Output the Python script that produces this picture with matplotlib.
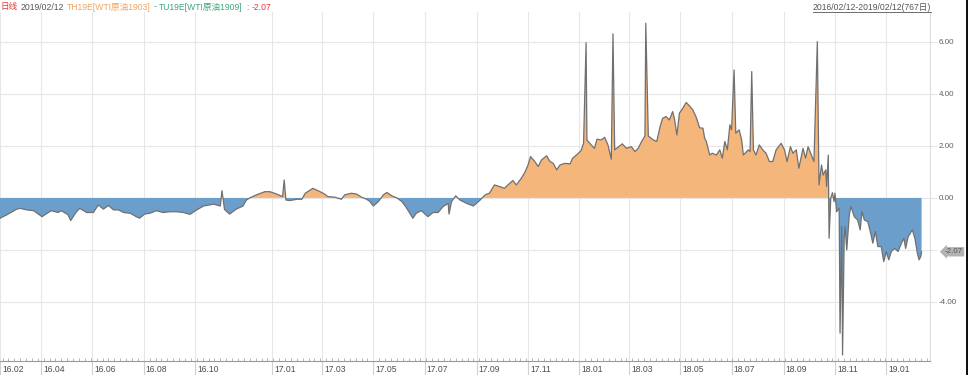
import matplotlib
matplotlib.use("Agg")
import numpy as np
import pandas as pd
import matplotlib.pyplot as plt
import matplotlib.dates as mdates
from matplotlib import font_manager
from matplotlib.lines import Line2D
from matplotlib.patches import Rectangle
from matplotlib.transforms import blended_transform_factory, ScaledTranslation

# TH19E - TU19E spread, days counted from the first bar (2016-02-12)
START = pd.Timestamp("2016-02-12")
DAY_OFFSET = [
    0, 8, 20, 24, 32, 40, 50, 56, 61, 69, 73, 81, 84, 91, 95, 103, 111, 117, 123, 129,
    135, 141, 147, 155, 162, 166, 172, 178, 186, 194, 202, 210, 218, 226, 234, 242, 254, 262, 264, 267,
    273, 281, 289, 293, 297, 305, 315, 321, 329, 336, 338, 340, 345, 353, 359, 363, 372, 380,
    386, 390, 398, 406, 410, 418, 424, 430, 436, 440, 444, 450, 456, 460, 466, 472, 478, 483, 491, 495,
    501, 509, 515, 521, 527, 533, 534, 537, 542, 547, 555, 563, 569,
    571, 577, 582, 588, 594, 600, 604, 610, 614, 620, 624, 628, 631, 636, 640, 644, 650, 654, 658, 662,
    666, 672, 678, 681, 687, 691, 694, 697, 698, 703, 707, 710, 715, 719, 723, 727, 729, 731, 735, 740,
    745, 751, 755, 759, 763, 767, 768, 771, 777, 781, 785, 788, 792, 796, 800, 802, 805, 808, 812, 816,
    820, 824, 828, 832,
    836, 838, 840, 844, 847, 852, 856, 859, 862, 865, 868, 870, 873, 875, 879, 882, 884, 890, 892, 894,
    896, 899, 903, 907, 911, 915, 919, 923, 929, 933, 936, 940, 943, 947, 950, 955, 958, 961, 965, 968,
    972, 974, 977, 979, 982, 983, 985, 986, 988, 990, 992, 993, 995, 998, 999, 1001, 1002, 1004, 1005, 1007,
    1010, 1012, 1016, 1020, 1023, 1025, 1028, 1032, 1035, 1038, 1041, 1044, 1048, 1051, 1054, 1057, 1060, 1064, 1068, 1072,
    1075, 1077, 1080, 1085, 1088, 1091, 1093, 1095, 1096,
]
SPREAD = [
    -0.78, -0.65, -0.43, -0.40, -0.46, -0.49, -0.72, -0.59, -0.49, -0.56, -0.49, -0.65, -0.87, -0.53, -0.40, -0.56, -0.56, -0.27, -0.43, -0.29,
    -0.46, -0.46, -0.56, -0.59, -0.72, -0.78, -0.62, -0.59, -0.49, -0.56, -0.53, -0.53, -0.56, -0.63, -0.46, -0.31, -0.24, -0.31, 0.28, -0.44,
    -0.62, -0.43, -0.31, -0.08, 0.00, 0.12, 0.24, 0.24, 0.15, 0.05, 0.69, -0.08, -0.10, -0.05, -0.05, 0.18, 0.37, 0.25,
    0.15, 0.05, 0.03, -0.05, 0.12, 0.18, 0.15, 0.03, -0.05, -0.14, -0.31, -0.14, 0.12, 0.21, 0.08, 0.00, -0.14, -0.36, -0.78, -0.59,
    -0.49, -0.72, -0.56, -0.56, -0.33, -0.21, -0.62, -0.14, 0.08, -0.08, -0.21, -0.31, -0.14,
    -0.08, 0.12, 0.18, 0.50, 0.44, 0.37, 0.50, 0.67, 0.50, 0.76, 0.97, 1.27, 1.59, 1.40, 1.21, 1.46, 1.62, 1.40, 1.33, 1.08,
    1.27, 1.33, 1.31, 1.53, 1.69, 1.82, 2.10, 5.97, 2.23, 2.04, 1.91, 2.26, 2.23, 2.33, 2.04, 1.49, 6.31, 1.85, 1.95, 2.08,
    1.91, 1.97, 1.78, 1.91, 2.17, 2.38, 6.72, 2.38, 2.23, 2.17, 2.74, 3.06, 3.13, 3.00, 3.32, 3.06, 2.42, 3.26, 3.45, 3.67,
    3.54, 3.38, 3.10, 2.70,
    2.68, 2.30, 2.17, 1.65, 1.72, 1.65, 1.85, 1.53, 2.17, 1.85, 2.81, 2.62, 4.92, 2.49, 2.62, 2.23, 1.65, 1.85, 1.78, 4.86,
    1.85, 1.65, 2.04, 1.85, 1.72, 1.40, 1.40, 1.85, 2.10, 1.85, 1.40, 1.97, 1.72, 1.85, 1.14, 1.91, 1.53, 1.97, 1.65, 1.40,
    6.01, 0.50, 1.27, 0.88, 1.08, 0.44, 1.65, -1.55, 0.00, 0.20, -0.14, 0.18, -0.53, -0.40, -5.20, -1.10, -6.04, -1.49, -1.10, -2.00,
    -0.65, -0.33, -0.72, -0.85, -1.23, -0.53, -0.85, -0.91, -1.29, -1.74, -1.29, -1.87, -1.87, -2.45, -2.06, -2.38, -2.06, -1.94, -2.06, -1.74,
    -1.55, -1.94, -1.49, -1.23, -1.55, -2.13, -2.38, -2.26, -2.07,
]
LAST = -2.07

TICK_DATES = ["2016-02-12", "2016-04-01", "2016-06-01", "2016-08-01", "2016-10-01",
              "2017-01-01", "2017-03-01", "2017-05-01", "2017-07-01", "2017-09-01",
              "2017-11-01", "2018-01-01", "2018-03-01", "2018-05-01", "2018-07-01",
              "2018-09-01", "2018-11-01", "2019-01-01"]
TICK_LABELS = ["16.02", "16.04", "16.06", "16.08", "16.10", "17.01", "17.03", "17.05",
               "17.07", "17.09", "17.11", "18.01", "18.03", "18.05", "18.07", "18.09",
               "18.11", "19.01"]
Y_TICKS = [-4, -2, 0, 2, 4, 6]

HEADER = [("日线", "#e23a33"), ("2019/02/12", "#555555"),
          ("TH19E[WTI原油1903]", "#f2a35e"), ("-", "#3ea77a"),
          ("TU19E[WTI原油1909]", "#3ea77a"), (":", "#3ea77a"), ("-2.07", "#e23a33")]
RANGE_TEXT = "2016/02/12-2019/02/12(767日)"

installed = {f.name for f in font_manager.fontManager.ttflist}
latin = "Liberation Sans Narrow" if "Liberation Sans Narrow" in installed else "Liberation Sans"
plt.rcParams["font.family"] = [latin, "Noto Sans CJK SC", "DejaVu Sans"]

W, H = 968, 375
fig = plt.figure(figsize=(W / 100, H / 100), dpi=100)
ax = fig.add_axes([0, (H - 361) / H, 930 / W, (361 - 12) / H])

dates = START + pd.to_timedelta(DAY_OFFSET, unit="D")
v = np.array(SPREAD)
ax.fill_between(dates, v, 0, where=v >= 0, interpolate=True, color="#f5b67c", lw=0)
ax.fill_between(dates, v, 0, where=v <= 0, interpolate=True, color="#6c9ecc", lw=0)
ax.plot(dates, v, color="#707070", lw=0.9)

ax.set_xlim(START, START + pd.Timedelta(days=1106))
ax.set_ylim(-6.27, 7.15)

# x axis: labels sit to the right of each month gridline
ax.set_xticks(pd.to_datetime(TICK_DATES))
ax.set_xticklabels(TICK_LABELS)
ax.xaxis.set_minor_locator(mdates.WeekdayLocator(byweekday=mdates.MO))
ax.tick_params(axis="x", which="major", length=14, width=0.8, color="#d0d0d0",
               pad=-11, labelsize=6.2, labelcolor="#4d4d4d")
ax.tick_params(axis="x", which="minor", direction="in", length=2.5, width=0.6,
               color="#a5a5a5")
shift = ScaledTranslation(2 / 100, 0, fig.dpi_scale_trans)
for lab in ax.get_xticklabels():
    lab.set_ha("left")
    lab.set_transform(lab.get_transform() + shift)

# y axis on the right
ax.yaxis.tick_right()
ax.set_yticks(Y_TICKS)
ax.set_yticklabels(["" if t == -2 else f"{t:.2f}" for t in Y_TICKS])
ax.tick_params(axis="y", length=5, width=0.8, color="#e6e6e6", pad=1,
               labelsize=5.8, labelcolor="#5f5f5f")

ax.grid(True, which="major", color="#e7e7e7", lw=0.8)
ax.set_axisbelow(True)
for side in ("top", "left"):
    ax.spines[side].set_visible(False)
ax.spines["right"].set_color("#dcdcdc")
ax.spines["bottom"].set_color("#9a9a9a")
ax.spines["bottom"].set_linewidth(0.8)

# last-value tag
tr = blended_transform_factory(ax.transAxes, ax.transData)
ax.text(1.016, LAST, f"{LAST:.2f}", transform=tr, ha="left", va="center",
        fontsize=5.8, color="#555555", clip_on=False,
        bbox=dict(boxstyle="larrow,pad=0.15", fc="#b3b3b3", ec="none"))

# header line
renderer = fig.canvas.get_renderer()
x = 0.0
for txt, col in HEADER:
    t = fig.text(x, 1 - 7 / H, txt, color=col, fontsize=6.2, va="center", ha="left")
    bb = t.get_window_extent(renderer)
    x = (bb.x1 + 3) / W

rt = fig.text(931 / W, 1 - 7 / H, RANGE_TEXT, color="#555555", fontsize=6.2,
              va="center", ha="right")
bb = rt.get_window_extent(renderer)
fig.add_artist(Line2D([bb.x0 / W, bb.x1 / W], [(bb.y0 - 0.5) / H] * 2,
                      color="#555555", lw=0.6))

# dark frame edge on the far right of the screenshot
fig.add_artist(Rectangle((966 / W, 0), 2 / W, 1, transform=fig.transFigure,
                         color="#111111", lw=0))

fig.savefig("out.png", dpi=100)
